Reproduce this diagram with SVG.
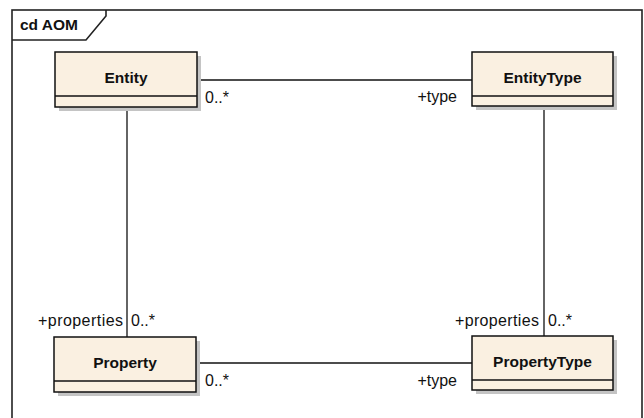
<svg xmlns="http://www.w3.org/2000/svg" width="644" height="418" viewBox="0 0 644 418">
<style>
.frame{fill:none;stroke:#222;stroke-width:1.6}
.shadow{fill:#c4c4c4}
.box{fill:#faf0e1;stroke:#111;stroke-width:1.5}
.div{stroke:#111;stroke-width:1.5}
.name{font-family:"Liberation Sans",Arial,sans-serif;font-weight:bold;font-size:15.5px;fill:#111;text-anchor:middle}
.lbl{font-family:"Liberation Sans",Arial,sans-serif;font-size:16px;fill:#111}
.conn{stroke:#111;stroke-width:1.3;fill:none}
</style>
<rect width="644" height="418" fill="#fff"/>
<g id="frame">
<rect class="frame" x="12" y="10" width="630" height="420"/>
<path class="frame" d="M12,40 H86 L106,16 V10"/>
<text class="name" x="20" y="30" style="text-anchor:start">cd AOM</text>
</g>
<g id="connectors">
<line class="conn" x1="198" y1="80" x2="472" y2="80"/>
<line class="conn" x1="127" y1="107" x2="127" y2="337"/>
<line class="conn" x1="544" y1="106" x2="544" y2="336"/>
<line class="conn" x1="196" y1="363" x2="472" y2="363"/>
<text class="lbl" x="205" y="103">0..*</text>
<text class="lbl" x="457" y="102" text-anchor="end">+type</text>
<text class="lbl" x="123" y="326" text-anchor="end" textLength="85">+properties</text>
<text class="lbl" x="131" y="326">0..*</text>
<text class="lbl" x="539" y="326" text-anchor="end" textLength="84">+properties</text>
<text class="lbl" x="548" y="326">0..*</text>
<text class="lbl" x="205" y="386">0..*</text>
<text class="lbl" x="457" y="386" text-anchor="end">+type</text>
</g>
<g id="Entity">
<rect class="shadow" x="59" y="56" width="142" height="55"/>
<rect class="box" x="55" y="52" width="142" height="55"/>
<line class="div" x1="55" y1="96" x2="197" y2="96"/>
<text class="name" x="126" y="83">Entity</text>
</g>
<g id="EntityType">
<rect class="shadow" x="476" y="56" width="141" height="54"/>
<rect class="box" x="472" y="52" width="141" height="54"/>
<line class="div" x1="472" y1="96" x2="613" y2="96"/>
<text class="name" x="542.5" y="83">EntityType</text>
</g>
<g id="Property">
<rect class="shadow" x="58" y="341" width="142" height="55"/>
<rect class="box" x="54" y="337" width="142" height="55"/>
<line class="div" x1="54" y1="381" x2="196" y2="381"/>
<text class="name" x="125" y="368">Property</text>
</g>
<g id="PropertyType">
<rect class="shadow" x="476" y="340" width="141" height="54"/>
<rect class="box" x="472" y="336" width="141" height="54"/>
<line class="div" x1="472" y1="380" x2="613" y2="380"/>
<text class="name" x="542.5" y="367">PropertyType</text>
</g>
</svg>
